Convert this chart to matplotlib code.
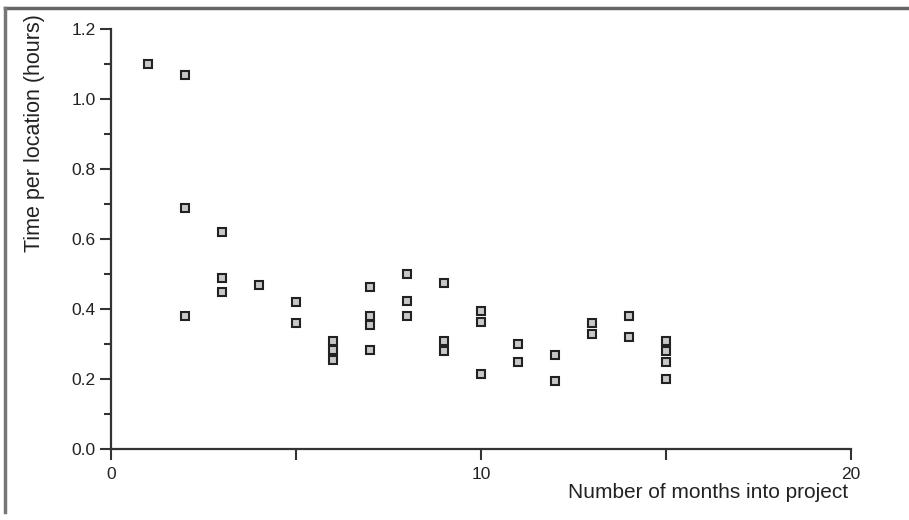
import matplotlib
matplotlib.use("Agg")
import matplotlib.pyplot as plt
from matplotlib.lines import Line2D
from matplotlib import font_manager

months = [1, 2, 2, 2, 3, 3, 3, 4, 5, 5, 6, 6, 6, 7, 7, 7, 7, 8, 8, 8,
          9, 9, 9, 10, 10, 10, 11, 11, 12, 12, 13, 13, 14, 14, 15, 15, 15, 15]
hours = [1.10, 1.07, 0.69, 0.38, 0.62, 0.49, 0.45, 0.47, 0.42, 0.36,
         0.31, 0.285, 0.255, 0.465, 0.38, 0.355, 0.285, 0.50, 0.425, 0.38,
         0.475, 0.31, 0.28, 0.395, 0.365, 0.215, 0.30, 0.25, 0.27, 0.195,
         0.36, 0.33, 0.38, 0.32, 0.31, 0.28, 0.25, 0.20]

x_ticks = [0, 5, 10, 15, 20]
x_tick_labels = ["0", "", "10", "", "20"]
y_ticks = [0.0, 0.2, 0.4, 0.6, 0.8, 1.0, 1.2]
y_tick_labels = ["0.0", "0.2", "0.4", "0.6", "0.8", "1.0", "1.2"]
y_minor = [0.1, 0.3, 0.5, 0.7, 0.9, 1.1]

names = {f.name for f in font_manager.fontManager.ttflist}
fam = "Liberation Sans Narrow" if "Liberation Sans Narrow" in names else "Liberation Sans"
plt.rcParams["font.family"] = [fam, "DejaVu Sans"]

fig = plt.figure(figsize=(9.09, 5.20), dpi=100)
ax = fig.add_axes([111 / 909, (520 - 449.3) / 520, (851 - 111) / 909, (449.3 - 29.3) / 520])

ax.plot(months, hours, linestyle="none", marker="s", markersize=6,
        markerfacecolor="#c8c8c8", markeredgecolor="#222222", markeredgewidth=1.5,
        clip_on=False)

ax.set_xlim(0, 20)
ax.set_ylim(0, 1.2)
ax.set_xticks(x_ticks)
ax.set_xticklabels(x_tick_labels)
ax.set_yticks(y_ticks)
ax.set_yticklabels(y_tick_labels)
ax.set_yticks(y_minor, minor=True)

for s in ["top", "right"]:
    ax.spines[s].set_visible(False)
for s in ["left", "bottom"]:
    ax.spines[s].set_color("#333333")
    ax.spines[s].set_linewidth(1.6)

ax.tick_params(axis="both", which="major", direction="out", length=8, width=1.5,
               color="#333333", labelsize=12.5, labelcolor="#222222")
ax.tick_params(axis="y", which="minor", direction="out", length=5, width=1.5,
               color="#333333")
ax.tick_params(axis="x", pad=5)
ax.tick_params(axis="y", pad=3)

fig.text(848 / 909, (520 - 493) / 520, "Number of months into project",
         ha="right", va="center", fontsize=15, color="#222222")
fig.text(35 / 909, 1 - 14 / 520, "Time per location (hours)", rotation=90,
         ha="center", va="top", fontsize=15.5, color="#222222")

# scanned frame edges
fig.add_artist(Line2D([5 / 909, 1.0], [1 - 8 / 520, 1 - 8 / 520],
                      transform=fig.transFigure, color="#666666", linewidth=2.5))
fig.add_artist(Line2D([5 / 909, 5 / 909], [1 - 8 / 520, 8 / 520],
                      transform=fig.transFigure, color="#777777", linewidth=2.5))

fig.savefig("out.png", dpi=100)
